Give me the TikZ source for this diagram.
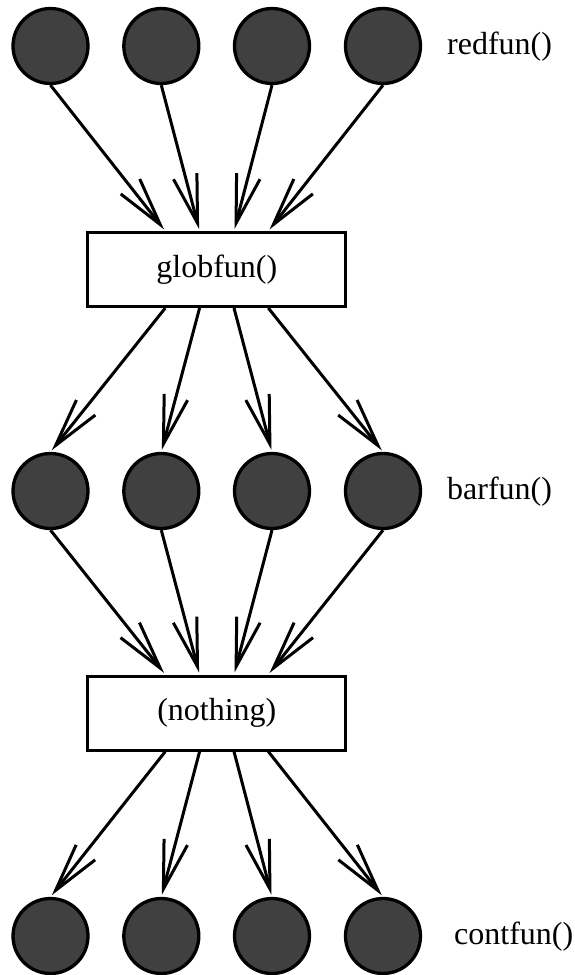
\documentclass[tikz,border=0pt]{standalone}
\usepackage{fontspec}
\setmainfont{Liberation Serif}
\usetikzlibrary{arrows.meta,calc}
\definecolor{dotfill}{RGB}{64,64,64}
\begin{document}
\begin{tikzpicture}[x=1pt,y=-1pt,
  dot/.style={circle,draw=black,fill=dotfill,line width=3.3pt,minimum size=75pt,inner sep=0pt},
  fbox/.style={rectangle,draw=black,fill=white,line width=3pt,minimum width=258pt,minimum height=74pt,inner sep=0pt,font=\fontsize{32}{38}\selectfont},
  lbl/.style={anchor=west,inner sep=0pt,font=\fontsize{32}{38}\selectfont},
  conn/.style={line width=3pt,-{Straight Barb[angle=28:50pt]},shorten >=2pt}
]
\useasboundingbox (0,0) rectangle (574,975);
% rows of circles
\foreach \r/\y in {1/46,2/491,3/936}{
  \node[dot] (c\r1) at (50.5,\y) {};
  \node[dot] (c\r2) at (161.3,\y) {};
  \node[dot] (c\r3) at (272,\y) {};
  \node[dot] (c\r4) at (383,\y) {};
}
% boxes
\node[fbox] (g) at (216.8,269.5) {globfun()};
\node[fbox] (n) at (216.8,713) {(nothing)};
% labels
\node[lbl] (lr) at (447,47) {redfun()};
\node[lbl] (lb) at (447,492) {barfun()};
\node[lbl] (lc) at (454,937) {contfun()};
% attachment points on the boxes
\foreach \i/\o in {1/-51.5,2/-17.2,3/17.2,4/51.5}{
  \coordinate (gt\i) at ($(g.north)+(\o,0)$);
  \coordinate (gb\i) at ($(g.south)+(\o,0)$);
  \coordinate (nt\i) at ($(n.north)+(\o,0)$);
  \coordinate (nb\i) at ($(n.south)+(\o,0)$);
}
% connectors
\foreach \i in {1,2,3,4}{
  \draw[conn] (c1\i.south) -- (gt\i);
  \draw[conn] (gb\i) -- (c2\i.north);
  \draw[conn] (c2\i.south) -- (nt\i);
  \draw[conn] (nb\i) -- (c3\i.north);
}
\end{tikzpicture}
\end{document}
